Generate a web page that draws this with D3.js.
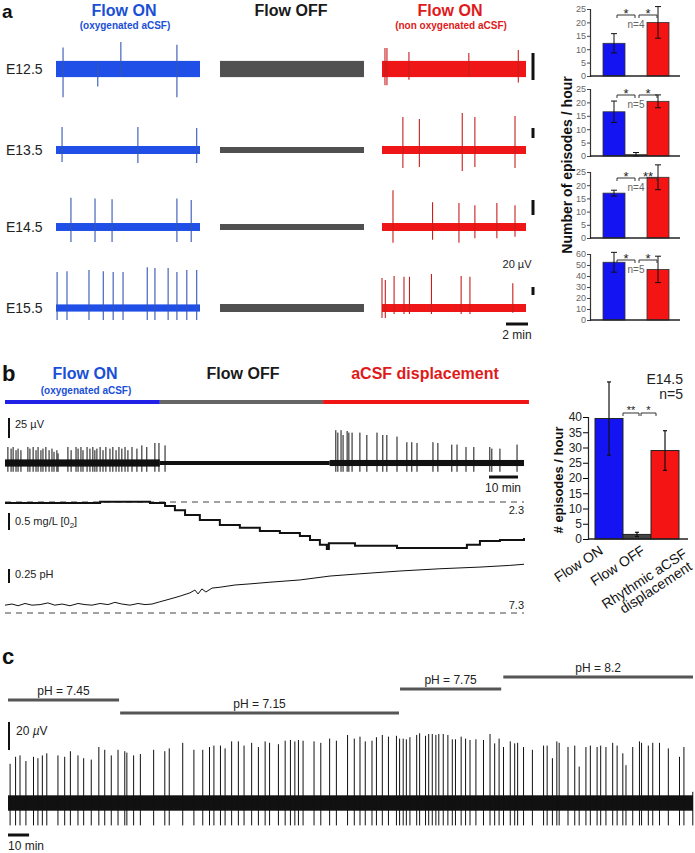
<!DOCTYPE html>
<html><head><meta charset="utf-8">
<script src="https://cdn.jsdelivr.net/npm/d3@7"></script>
<style>body{margin:0;background:#fff}svg{display:block;font-family:"Liberation Sans",Arial,Helvetica,sans-serif}</style>
</head><body><svg id="fig" width="695" height="853"></svg>
<script>
// ================= DATA =================
// ---- panel a : traces ----
const ageRows = ["E12.5","E13.5","E14.5","E15.5"];
const aConditions = ["Flow ON","Flow OFF","Flow ON"];
const aConditionNotes = ["(oxygenated aCSF)","","(non oxygenated aCSF)"];
// noise half-amplitude (µV), row x condition
const aNoise = [[6,6,6],[8,6,8],[5.3,4,5.3],[9,10,10]];
// spikes: [time (min), upward µV, downward µV]
const aSpikesE125 = [
  [[0.64,16,21],[3.8,5,13],[5.9,20,6],[11.0,18,21]],
  [],
  [[0.27,15.5,12],[0.45,15.5,12],[2.45,12.6,8],[7.9,11.9,6],[12.4,14,10]]];
const aSpikesE135 = [
  [[0.55,46,24],[7.45,46,26],[12.8,44,26]],
  [],
  [[1.9,66,36],[3.4,62,34],[7.3,74,42],[8.45,66,34],[12.1,68,36]]];
const aSpikesE145 = [
  [[1.36,39,20],[3.55,38,20],[5.1,37,20],[11.0,38,20],[12.3,36,20]],
  [],
  [[1.0,49,21],[4.6,33,17],[7.0,32,21],[8.45,29,15],[10.45,32,15],[12.1,29,13]]];
const aSpikesE155 = [
  [[0.1,90,30],[1.0,92,30],[3.0,95,30],[4.3,92,30],[5.2,90,30],[6.1,90,30],[8.3,102,30],[9.0,100,30],[10.2,100,30],[11.0,90,30],[11.9,95,30],[12.8,95,30]],
  [],
  [[0.0,75,25],[0.3,70,25],[1.1,80,15],[2.0,78,15],[2.5,78,15],[4.5,85,15],[7.2,80,15],[8.0,78,15],[11.9,62,12]]];
const aSpikes = [aSpikesE125, aSpikesE135, aSpikesE145, aSpikesE155];

// ---- panel a : bar charts (episodes / hour) ----
const barGroups = ["Flow ON (oxygenated)","Flow OFF","Flow ON (non oxygenated)"];
const aMeans = [[12.2,0,20],[16.5,0.5,20.4],[17,0,23],[52.5,0,46]];
const aErrs  = [[3.6,0,5.9],[4,0.8,2.4],[1.1,0,4.7],[9,0,12]];
const aYMax  = [25,25,25,60];
const aYStep = [5,5,5,10];
const aNText = ["n=4","n=5","n=4","n=5"];
const aSig   = [["*","*"],["*","*"],["*","**"],["*","*"]];

// ---- panel b ----
const bConditions = ["Flow ON","Flow OFF","aCSF displacement"];
const bCondStart = [0, 53.4, 109.7];
const bCondEnd   = [53.4, 109.7, 180.7];
const bNoiseStart = [0, 53.4, 112];
const bNoiseEnd   = [53.4, 112, 179];
const bNoiseAmp   = [4.5, 2.5, 3.8];           // µV
const bSpikeT = [1.0,2.1,2.8,3.8,4.5,5.5,7.9,8.6,9.7,10.7,11.4,12.4,13.1,14.1,15.2,16.2,16.9,17.9,18.3,
  21.7,22.8,24.5,25.2,26.2,26.9,28.3,29.3,30.3,31.0,31.7,32.8,33.8,34.8,36.2,37.2,38.3,39.3,40.3,41.4,42.4,43.8,45.5,47.2,48.9,51.7,53.1,55.2,
  114.1,114.8,115.9,116.6,118.0,118.6,119.7,122.4,124.8,128.3,130.3,131.7,135.2,138.6,140.3,142.1,147.6,149.3,154.1,155.9,159.0,161.7,167.2,167.9,170.7,176.6];
const bSpikeUp = [20,18,20,16,18,16,20,18,20,16,20,16,18,20,16,18,14,16,12,
  20,16,20,18,20,16,20,18,20,16,18,20,16,20,18,20,16,20,18,20,16,20,18,22,20,25,25,22,
  41,38,41,35,40,38,38,38,35,38,35,35,33,26,26,25,26,25,23,23,20,20,20,18,18,23];
const bSpikeDown = 11;  // µV
// dissolved O2 (mg/L) vs time (min)
const o2T = [0,19.0,32.8,46.6,50.0,55.2,58.6,62.1,67.2,74.1,81.0,87.9,94.8,101.7,105.2,108.6,111.0,111.7,120.0,120.7,134.5,135.2,158.6,159.3,163.1,163.8,170.7,179.0];
const o2V = [2.27,2.27,2.31,2.31,2.27,2.18,2.06,1.92,1.77,1.62,1.54,1.45,1.39,1.30,1.18,1.04,0.92,1.09,1.09,1.01,1.01,0.95,0.95,1.04,1.04,1.15,1.18,1.24];
const o2Ref = 2.3;
// pH vs time (min)
const phT = [0,2.4,4.5,6.9,9.3,12.1,14.8,17.2,19.7,22.4,25.2,27.6,30.0,32.8,35.5,37.9,40.3,43.1,45.9,48.3,50.7,
  53.4,56.9,60.3,63.8,65.5,66.6,67.9,69.3,71.4,74.1,79.3,84.5,91.4,101.7,112.1,122.4,136.2,150,163.8,174.1,179];
const phV = [7.44,7.46,7.43,7.47,7.44,7.45,7.48,7.44,7.46,7.43,7.47,7.45,7.44,7.47,7.45,7.49,7.46,7.44,7.47,7.45,7.46,
  7.50,7.55,7.60,7.66,7.71,7.64,7.73,7.675,7.745,7.76,7.80,7.82,7.85,7.89,7.96,8.0,8.05,8.09,8.12,8.15,8.17];
const phRef = 7.3;
// bar chart b
const bCats  = ["Flow ON","Flow OFF","Rhythmic aCSF displacement"];
const bMeans = [39.5, 1.5, 29];
const bErrs  = [12, 0.7, 6.5];
const bSig   = ["**","*"];

// ---- panel c ----
const cSegLabels = ["pH = 7.45","pH = 7.15","pH = 7.75","pH = 8.2"];
const cSegStart  = [0, 53.2, 186, 235];
const cSegEnd    = [52.7, 185.5, 234, 325];
const cSpikeT = [1,3.6,5.7,8.5,12.1,14.2,16.3,18.4,23.7,26.9,29.6,33.2,35.9,39.5,43.1,45.9,49,52.2,55.4,56.4,59.6,62.8,69.1,74.4,76.5,82.9,88.2,92.4,95.6,97.7,
  100.8,103,106.1,109.3,112,115.6,118.8,122,124.1,128.3,131.5,134,136.1,137.8,140,145.2,148.4,152.6,155.8,161.1,164.3,167,169.5,172.7,174.8,177.6,180.5,184.3,185.8,187.5,
  189,190.7,193.9,195.3,198.1,199.6,201.3,203,204.4,206.5,208.7,210.8,212.3,215,217.1,219.2,222,225.6,228.7,230.9,233,235.1,238.3,240.4,241.8,244.6,248.8,254.1,255.8,258.3,
  260.4,261.5,265.7,268.9,271,274.2,276.3,279.5,281.2,283.7,286.9,289,291.7,293.2,296.4,299.6,300.6,303.8,305.9,309.1,313.3,318.6,320.7,324.9];
const cSpikeAmp = [28,33,34,30,33,32,34,35.5,34,33,37,34,32,31,40,38,34,38,37,36,34,35,38,37,39,43,38,38,40,41,
  41,39,44,44,41,43,40,44,43,42,44.5,45,44,45,44.5,44,43,46,44.5,48.6,46,47.4,44,44.5,47,48.6,47.4,48,46,46,
  45.5,47,48.6,49.8,48,49.3,49.3,48.6,49.3,49.3,48.6,45.5,45.5,47.4,46,45,45.5,45,49.3,42.6,46,40,44,42.6,43,40,38,41,41,32,
  44,43,40,41,26,40,41,40,41,40,43,41,35.5,27,40,44,43,41,43,43,39,33,40,8];
const cSpikeDown = 16;  // µV
const cNoise = 5.5;     // µV

// ================= DRAWING =================
const svg = d3.select("#fig");
function T(x,y,s,size,o={}) {
  const t = svg.append("text").attr("x",x).attr("y",y).attr("font-size",size)
    .attr("fill",o.fill||"#111").attr("font-weight",o.bold?"bold":"normal")
    .attr("text-anchor",o.anchor||"start");
  if (o.tr) t.attr("transform",o.tr);
  t.text(s); return t;
}
function L(x1,y1,x2,y2,col,w) {
  return svg.append("line").attr("x1",x1).attr("y1",y1).attr("x2",x2).attr("y2",y2)
    .attr("stroke",col).attr("stroke-width",w);
}

// ---------- panel a ----------
T(2,18,"a",19,{bold:true});
const aTitleX = [124,291,450];
const aTitleCol = ["#1a4fd6","#1a1a1a","#e01a1a"];
aConditions.forEach((c,i)=>{
  T(aTitleX[i],16,c,16,{bold:true,anchor:"middle",fill:aTitleCol[i]});
  if (aConditionNotes[i]) T(aTitleX[i]+1,29,aConditionNotes[i],10,{bold:true,anchor:"middle",fill:aTitleCol[i]});
});
const aX0 = [56,220,382], aW = 144, aRowY = [69,150,227,308];
const aBarLen = [27,10,15,8], aBarOff = [-16,-22,-27,-21];
const aTraceFill = ["#1f4fe6","#505050","#ee1616"];
const aSpikeCol  = ["#3556b4","#505050","#c81e1e"];
const tA = d3.scaleLinear().domain([0,13.1]).range([0,aW]);
ageRows.forEach((lab,r)=>{
  T(6,aRowY[r]+5,lab,14,{fill:"#222"});
  const yv = d3.scaleLinear().domain([0,20]).range([aRowY[r], aRowY[r]-aBarLen[r]]);
  aX0.forEach((x0,c)=>{
    const n = aNoise[r][c];
    svg.append("rect").attr("x",x0).attr("width",aW).attr("y",yv(n)).attr("height",yv(-n)-yv(n))
      .attr("fill",aTraceFill[c]);
    svg.append("g").selectAll("line").data(aSpikes[r][c]).join("line")
      .attr("x1",d=>x0+tA(d[0])).attr("x2",d=>x0+tA(d[0]))
      .attr("y1",d=>yv(-d[2])).attr("y2",d=>yv(d[1]))
      .attr("stroke",aSpikeCol[c]).attr("stroke-width",1.1);
  });
  const sb0 = aRowY[r]+aBarOff[r];
  L(533,sb0,533,sb0+(yv(0)-yv(20)),"#111",3);
});
T(517,268,"20 µV",11,{anchor:"middle",fill:"#222"});
L(506,324,506+tA(2),324,"#111",3);
T(517,339,"2 min",12,{anchor:"middle",fill:"#222"});

// bar charts a
const aTop = [9,89,172,254], aBot = [76,156,238,320];
const barFill = ["#1414f2","#444444","#f51414"];
const xbA = d3.scaleBand().domain(barGroups).range([603,669]).padding(0);
aMeans.forEach((means,i)=>{
  const y = d3.scaleLinear().domain([0,aYMax[i]]).range([aBot[i],aTop[i]]);
  const g = svg.append("g");
  g.append("g").attr("transform","translate(590,0)")
    .call(d3.axisLeft(y).tickValues(d3.range(0,aYMax[i]+0.1,aYStep[i])).tickSize(3).tickPadding(1))
    .call(a=>{a.select(".domain").attr("stroke","#333").attr("stroke-width",1.2);
      a.selectAll(".tick line").attr("stroke","#444");
      a.selectAll("text").attr("font-size",9).attr("fill","#666").attr("font-family",null);});
  barGroups.forEach((k,j)=>{
    const v = means[j], e = aErrs[i][j], cx = xbA(k)+xbA.bandwidth()/2;
    if (v>0) g.append("rect").attr("x",xbA(k)).attr("width",xbA.bandwidth())
      .attr("y",y(v)).attr("height",y(0)-y(v)).attr("fill",barFill[j]).attr("stroke","#333").attr("stroke-width",0.8);
    if (e>0) {
      L(cx,y(v+e),cx,y(Math.max(0,v-e)),"#111",1);
      L(cx-3,y(v+e),cx+3,y(v+e),"#111",1);
      L(cx-3,y(Math.max(0,v-e)),cx+3,y(Math.max(0,v-e)),"#111",1);
    }
  });
  L(590,aBot[i],680,aBot[i],"#222",1.5);
  const yBr = aTop[i]+6;
  aSig[i].forEach((s,k)=>{
    const x1 = xbA(barGroups[k])+xbA.bandwidth()/2+3, x2 = xbA(barGroups[k+1])+xbA.bandwidth()/2-1;
    svg.append("path").attr("d",`M${x1},${yBr+3}V${yBr}H${x2}V${yBr+3}`).attr("fill","none").attr("stroke","#333").attr("stroke-width",1);
    T((x1+x2)/2,yBr+3,s,13,{anchor:"middle",fill:"#222"});
  });
  T(xbA(barGroups[1])+xbA.bandwidth()/2,aTop[i]+19,aNText[i],10,{anchor:"middle",fill:"#666"});
});
T(0,0,"Number of episodes / hour",14,{bold:true,anchor:"middle",tr:"translate(572,165) rotate(-90)"});

// ---------- panel b ----------
T(2,381,"b",22,{bold:true});
const bTitleX = [85,243,425];
const bCol = ["#1a4fd6","#1a1a1a","#e01a1a"];
bConditions.forEach((c,i)=>T(bTitleX[i],379,c,16,{bold:true,anchor:"middle",fill:bCol[i]}));
T(86,394,"(oxygenated aCSF)",10,{bold:true,anchor:"middle",fill:bCol[0]});
const tB = d3.scaleLinear().domain([0,179]).range([5,524]);
const condBarCol = ["#2020e6","#666666","#f01414"];
bCondStart.forEach((s,i)=>svg.append("rect").attr("x",tB(s)).attr("width",tB(bCondEnd[i])-tB(s))
  .attr("y",400).attr("height",4).attr("fill",condBarCol[i]));
// trace
const yB = d3.scaleLinear().domain([0,25]).range([463,443]);
L(9,418,9,438,"#111",2);
T(15,428,"25 µV",11,{fill:"#222"});
bNoiseStart.forEach((s,i)=>svg.append("rect").attr("x",tB(s)).attr("width",tB(bNoiseEnd[i])-tB(s))
  .attr("y",yB(bNoiseAmp[i])).attr("height",yB(-bNoiseAmp[i])-yB(bNoiseAmp[i])).attr("fill","#111"));
svg.append("g").selectAll("line").data(bSpikeT).join("line")
  .attr("x1",d=>tB(d)).attr("x2",d=>tB(d)).attr("y1",yB(-bSpikeDown)).attr("y2",(d,i)=>yB(bSpikeUp[i]))
  .attr("stroke","#111").attr("stroke-width",1);
L(489,477,489+tB(10)-tB(0),477,"#111",3);
T(503,492,"10 min",12,{anchor:"middle",fill:"#222"});
// O2
const yO2 = d3.scaleLinear().domain([0,o2Ref]).range([502+o2Ref*34,502]);
L(tB(0),yO2(o2Ref),tB(179),yO2(o2Ref),"#444",1).attr("stroke-dasharray","6,5");
T(524,514,String(o2Ref),11,{anchor:"end",fill:"#222"});
L(9,yO2(o2Ref)+11,9,yO2(o2Ref)+11+(yO2(0)-yO2(0.5)),"#111",2);
const o2lab = T(15,525,"0.5 mg/L [0",11,{fill:"#222"});
o2lab.append("tspan").attr("font-size",8).attr("dy",3).text("2");
o2lab.append("tspan").attr("dy",-3).text("]");
svg.append("path").datum(o2T.map((t,i)=>[t,o2V[i]]))
  .attr("d",d3.line().x(d=>tB(d[0])).y(d=>yO2(d[1])).curve(d3.curveStepAfter))
  .attr("fill","none").attr("stroke","#111").attr("stroke-width",2);
// pH
const yPH = d3.scaleLinear().domain([phRef,phRef+1]).range([613,557]);
L(tB(0),yPH(phRef),tB(179),yPH(phRef),"#444",1).attr("stroke-dasharray","6,5");
T(524,609,String(phRef),11,{anchor:"end",fill:"#222"});
L(9,569,9,569+(yPH(phRef)-yPH(phRef+0.25)),"#111",2);
T(15,578,"0.25 pH",11,{fill:"#222"});
svg.append("path").datum(phT.map((t,i)=>[t,phV[i]]))
  .attr("d",d3.line().x(d=>tB(d[0])).y(d=>yPH(d[1])))
  .attr("fill","none").attr("stroke","#111").attr("stroke-width",1);
// bar chart b
const ybB = d3.scaleLinear().domain([0,40]).range([539,417]);
const xbB = d3.scaleBand().domain(bCats).range([595,679]).padding(0);
svg.append("g").attr("transform","translate(588,0)")
  .call(d3.axisLeft(ybB).tickValues(d3.range(0,41,5)).tickSize(5).tickPadding(1))
  .call(a=>{a.select(".domain").attr("stroke","#222").attr("stroke-width",1.2);
    a.selectAll("text").attr("font-size",12).attr("fill","#222").attr("font-family",null);});
const bBarFill = ["#1414f2","#444444","#f51414"];
bCats.forEach((k,j)=>{
  const v = bMeans[j], e = bErrs[j], cx = xbB(k)+xbB.bandwidth()/2;
  svg.append("rect").attr("x",xbB(k)).attr("width",xbB.bandwidth()).attr("y",ybB(v)).attr("height",ybB(0)-ybB(v))
    .attr("fill",bBarFill[j]).attr("stroke","#222").attr("stroke-width",1);
  L(cx,ybB(v+e),cx,ybB(v-e),"#111",1.2);
  L(cx-2,ybB(v+e),cx+2,ybB(v+e),"#111",1.2);
  L(cx-2,ybB(v-e),cx+2,ybB(v-e),"#111",1.2);
});
L(588,539,688,539,"#222",1.5);
const bw = xbB.bandwidth();
const brX = [[xbB(bCats[0])+bw, xbB(bCats[1])+bw/2+2],[xbB(bCats[1])+bw/2+4, xbB(bCats[2])+5]];
bSig.forEach((s,k)=>{
  const [x1,x2] = brX[k];
  svg.append("path").attr("d",`M${x1},${416}V${413}H${x2}V${416}`).attr("fill","none").attr("stroke","#333").attr("stroke-width",1);
  T((x1+x2)/2,414,s,11,{anchor:"middle",fill:"#222"});
});
T(683,384,"E14.5",14,{anchor:"end",fill:"#222"});
T(683,399,"n=5",14,{anchor:"end",fill:"#222"});
T(0,0,"# episodes / hour",13,{bold:true,anchor:"middle",tr:"translate(563,480) rotate(-90)"});
const cxB = k=>xbB(k)+bw/2;
T(0,0,"Flow ON",14,{anchor:"end",fill:"#111",tr:`translate(${cxB(bCats[0])-5},553) rotate(-33)`});
T(0,0,"Flow OFF",14,{anchor:"end",fill:"#111",tr:`translate(${cxB(bCats[1])+9},553) rotate(-33)`});
T(0,0,"Rhythmic aCSF",14,{anchor:"end",fill:"#111",tr:`translate(${cxB(bCats[2])+23},556) rotate(-33)`});
T(0,0,"displacement",14,{anchor:"end",fill:"#111",tr:`translate(${cxB(bCats[2])+28},569) rotate(-33)`});

// ---------- panel c ----------
T(2,664,"c",22,{bold:true});
const tC = d3.scaleLinear().domain([0,325]).range([8,693]);
const cSegY = [700,713,689,677];
cSegLabels.forEach((lab,i)=>{
  L(tC(cSegStart[i]),cSegY[i],tC(cSegEnd[i]),cSegY[i],"#555",3);
  T((tC(cSegStart[i])+tC(cSegEnd[i]))/2,cSegY[i]-5,lab,12,{anchor:"middle",fill:"#222"});
});
const yC = d3.scaleLinear().domain([0,20]).range([803,775]);
L(9,722,9,722+(yC(0)-yC(20)),"#111",2);
const lab20 = T(16,735,"20 ",12,{fill:"#222"});
lab20.append("tspan").attr("font-style","italic").text("µ");
lab20.append("tspan").text("V");
svg.append("rect").attr("x",tC(0)).attr("width",tC(325)-tC(0)).attr("y",yC(cNoise)).attr("height",yC(-cNoise)-yC(cNoise)).attr("fill","#111");
svg.append("g").selectAll("line").data(cSpikeT).join("line")
  .attr("x1",d=>tC(d)).attr("x2",d=>tC(d)).attr("y1",yC(-cSpikeDown)).attr("y2",(d,i)=>yC(cSpikeAmp[i]))
  .attr("stroke","#111").attr("stroke-width",1);
L(8,835,tC(10),835,"#111",3);
T(8,850,"10 min",12,{fill:"#222"});
</script></body></html>
